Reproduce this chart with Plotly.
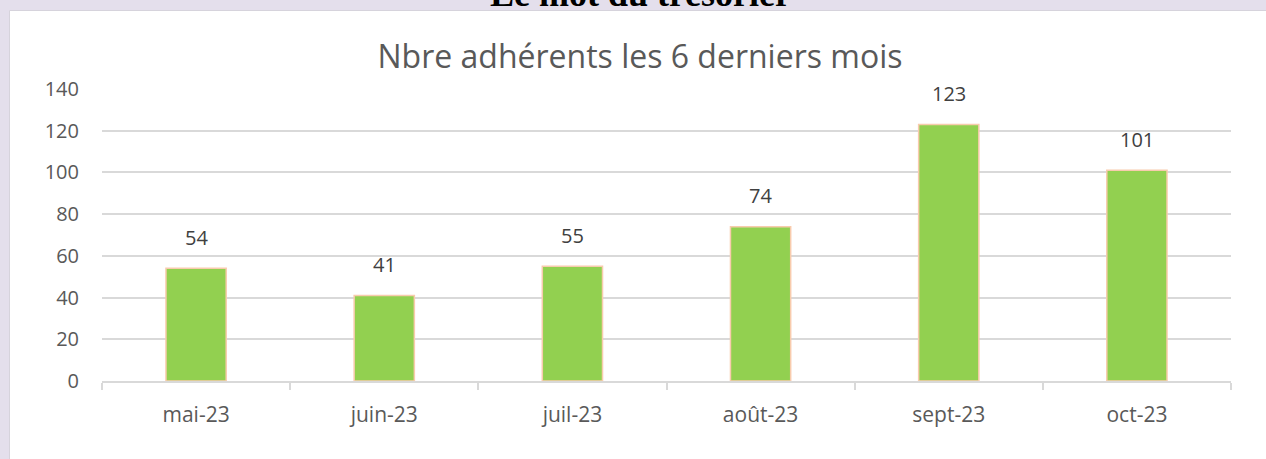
import plotly.graph_objects as go

months = ["mai-23", "juin-23", "juil-23", "août-23", "sept-23", "oct-23"]
adherents = [54, 41, 55, 74, 123, 101]
y_ticks = [0, 20, 40, 60, 80, 100, 120, 140]

W, H = 1266, 459
L, R, T, B = 102, 35, 89, 78
pw, ph = W - L - R, H - T - B

def px_x(p):
    return (p - L) / pw

def px_y(p):
    return (H - B - p) / ph

FONT = "Open Sans"

fig = go.Figure()
fig.add_trace(go.Bar(
    x=months, y=adherents, width=0.32,
    marker=dict(color="#92D050", line=dict(color="#F8CBAD", width=1.5)),
    hoverinfo="x+y",
))

for m, v in zip(months, adherents):
    fig.add_annotation(x=m, y=v, text=str(v), showarrow=False, yanchor="middle",
                       yshift=31, font=dict(family=FONT, size=20, color="#404040"))

# white panel on lavender background
fig.add_shape(type="rect", xref="paper", yref="paper", layer="below",
              x0=px_x(9.5), x1=px_x(1270), y0=px_y(10.5), y1=px_y(470),
              fillcolor="white", line=dict(color="#D6D3DC", width=1))

fig.add_annotation(xref="paper", yref="paper", x=px_x(640), y=px_y(16),
                   text="<b>Le mot du trésorier</b>", showarrow=False,
                   yanchor="bottom", xanchor="center",
                   font=dict(family="Liberation Serif", size=36, color="#000000"))

fig.update_layout(
    width=W, height=H,
    margin=dict(l=L, r=R, t=T, b=B, pad=0),
    paper_bgcolor="#E4DFEC", plot_bgcolor="white",
    showlegend=False,
    title=dict(text="Nbre adhérents les 6 derniers mois", xref="container", yref="container",
               x=640 / W, y=1 - 57 / H, xanchor="center", yanchor="middle",
               font=dict(family=FONT, size=32, color="#595959")),
    font=dict(family=FONT, color="#595959"),
    xaxis=dict(type="category", showgrid=False, showline=True, linecolor="#D9D9D9", linewidth=1.5,
               ticks="outside", tickson="boundaries", ticklen=7, tickcolor="#D9D9D9", tickwidth=1.5,
               tickfont=dict(family=FONT, size=21, color="#595959"), ticklabelstandoff=14),
    yaxis=dict(range=[0, 140], tickvals=y_ticks, showgrid=True, gridcolor="#D9D9D9", gridwidth=1.5,
               zeroline=False, showline=False, ticks="",
               tickfont=dict(family=FONT, size=20, color="#595959"), ticklabelstandoff=22),
)

fig.write_html("out.html", config={"displayModeBar": False},
               post_script="document.body.style.margin='0';document.body.style.overflow='hidden';")
